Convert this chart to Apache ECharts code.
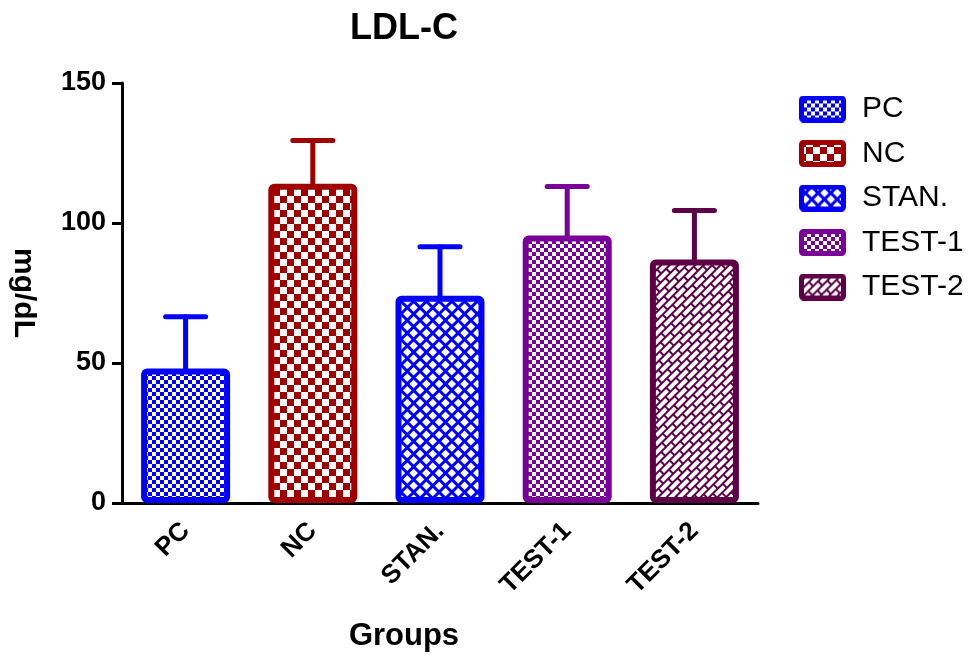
<!DOCTYPE html>
<html>
<head>
<meta charset="utf-8">
<script src="https://cdn.jsdelivr.net/npm/echarts@6/dist/echarts.min.js"></script>
<style>
html,body{margin:0;padding:0;background:#fff;}
#chart{width:971px;height:657px;}
</style>
</head>
<body>
<div id="chart"></div>
<script>
// ---- data ----
const categories = ['PC', 'NC', 'STAN.', 'TEST-1', 'TEST-2'];
const meanValues = [48, 114, 74, 95.5, 87];
const upperValues = [66.5, 129.5, 91.5, 113, 104.5];
const yMin = 0, yMax = 150, yInterval = 50;

// ---- styles ----
const seriesColors = ['#0000FF', '#A00000', '#0000FF', '#7A0099', '#5E0045'];
const patternKinds = ['checkSmall', 'checkLarge', 'cross', 'checkSmall', 'brick'];
const FONT = 'Arial, "Liberation Sans", sans-serif';

function makeTile(kind, color) {
  const c = document.createElement('canvas');
  let ctx;
  if (kind === 'checkSmall' || kind === 'checkLarge') {
    const s = kind === 'checkSmall' ? 4 : 7;
    c.width = c.height = s * 2;
    ctx = c.getContext('2d');
    ctx.fillStyle = '#fff'; ctx.fillRect(0, 0, s * 2, s * 2);
    ctx.fillStyle = color;
    ctx.fillRect(0, 0, s, s); ctx.fillRect(s, s, s, s);
    return { canvas: c, rotation: 0 };
  }
  if (kind === 'cross') {
    const s = 9;
    c.width = c.height = s;
    ctx = c.getContext('2d');
    ctx.fillStyle = '#fff'; ctx.fillRect(0, 0, s, s);
    ctx.fillStyle = color;
    ctx.fillRect(0, 0, s, 3); ctx.fillRect(0, 0, 3, s);
    return { canvas: c, rotation: Math.PI / 4 };
  }
  const w = 14, h = 12;
  c.width = w; c.height = h;
  ctx = c.getContext('2d');
  ctx.fillStyle = '#fff'; ctx.fillRect(0, 0, w, h);
  ctx.fillStyle = color;
  ctx.fillRect(0, 0, w, 2); ctx.fillRect(0, 6, w, 2);
  ctx.fillRect(0, 0, 2, 6); ctx.fillRect(7, 6, 2, 6);
  return { canvas: c, rotation: -Math.PI / 4 };
}

function makePattern(kind, color) {
  const t = makeTile(kind, color);
  return { image: t.canvas, repeat: 'repeat', rotation: t.rotation };
}

function legendIcon(kind, color) {
  const W = 47, H = 27, bw = 5;
  const c = document.createElement('canvas');
  c.width = W; c.height = H;
  const ctx = c.getContext('2d');
  const t = makeTile(kind, color);
  ctx.fillStyle = '#fff'; ctx.fillRect(0, 0, W, H);
  ctx.save();
  ctx.beginPath(); ctx.rect(bw, bw, W - 2 * bw, H - 2 * bw); ctx.clip();
  ctx.rotate(t.rotation);
  ctx.fillStyle = ctx.createPattern(t.canvas, 'repeat');
  ctx.fillRect(-200, -200, 400, 400);
  ctx.restore();
  ctx.strokeStyle = color; ctx.lineWidth = bw;
  ctx.beginPath();
  if (ctx.roundRect) ctx.roundRect(bw / 2, bw / 2, W - bw, H - bw, 2);
  else ctx.rect(bw / 2, bw / 2, W - bw, H - bw);
  ctx.stroke();
  return 'image://' + c.toDataURL();
}

const chart = echarts.init(document.getElementById('chart'), null, { renderer: 'canvas' });

const barSeries = categories.map((name, i) => ({
  name: name,
  type: 'bar',
  barWidth: 89,
  barGap: '-100%',
  z: 3,
  itemStyle: {
    color: makePattern(patternKinds[i], seriesColors[i]),
    borderColor: seriesColors[i],
    borderWidth: 6,
    borderRadius: 3
  },
  data: categories.map((c, j) => (j === i ? meanValues[i] : '-'))
}));

const errorSeries = {
  name: 'err',
  type: 'custom',
  z: 2,
  encode: { x: 0, y: [1, 2] },
  data: categories.map((c, i) => [i, meanValues[i], upperValues[i]]),
  renderItem: function (params, api) {
    const idx = api.value(0);
    const p0 = api.coord([idx, api.value(1)]);
    const p1 = api.coord([idx, api.value(2)]);
    const color = seriesColors[idx];
    const half = 20;
    const st = { stroke: color, lineWidth: 5, lineCap: 'round' };
    return {
      type: 'group',
      children: [
        { type: 'line', shape: { x1: p0[0], y1: p0[1] + 4, x2: p1[0], y2: p1[1] }, style: st },
        { type: 'line', shape: { x1: p1[0] - half, y1: p1[1], x2: p1[0] + half, y2: p1[1] }, style: st }
      ]
    };
  }
};

const option = {
  backgroundColor: '#fff',
  animation: false,
  title: {
    text: 'LDL-C',
    left: 345,
    top: 6,
    textStyle: { fontFamily: FONT, fontSize: 36, fontWeight: 'bold', color: '#000' }
  },
  legend: {
    data: categories.map((n, i) => ({ name: n, icon: legendIcon(patternKinds[i], seriesColors[i]) })),
    orient: 'vertical',
    left: 794,
    top: 89,
    itemWidth: 47,
    itemHeight: 27,
    itemGap: 14.5,
    selectedMode: false,
    textStyle: { fontFamily: FONT, fontSize: 30, lineHeight: 27, color: '#000', padding: [0, 0, 0, 11] }
  },
  grid: { left: 118, right: 213, top: 83, bottom: 154, containLabel: false },
  xAxis: {
    type: 'category',
    data: categories,
    axisLine: { lineStyle: { color: '#000', width: 3 } },
    axisTick: { alignWithLabel: true, length: 10, lineStyle: { color: '#000', width: 3 } },
    axisLabel: {
      rotate: 45,
      margin: 24,
      fontFamily: FONT, fontSize: 26, fontWeight: 'bold', color: '#000'
    }
  },
  yAxis: {
    type: 'value',
    min: yMin, max: yMax, interval: yInterval,
    name: 'mg/dL',
    nameLocation: 'middle',
    nameRotate: -90,
    nameGap: 84,
    nameTextStyle: { fontFamily: FONT, fontSize: 30, fontWeight: 'bold', color: '#000' },
    axisLine: { show: true, lineStyle: { color: '#000', width: 3 } },
    axisTick: { show: true, length: 10, lineStyle: { color: '#000', width: 3 } },
    splitLine: { show: false },
    axisLabel: { margin: 16, fontFamily: FONT, fontSize: 27, fontWeight: 'bold', color: '#000' }
  },
  graphic: [{
    type: 'text',
    x: 404,
    y: 636,
    style: { text: 'Groups', font: 'bold 31px ' + FONT, fill: '#000', textAlign: 'center', textVerticalAlign: 'middle' }
  }],
  series: barSeries.concat([errorSeries])
};
chart.setOption(option);
</script>
</body>
</html>
